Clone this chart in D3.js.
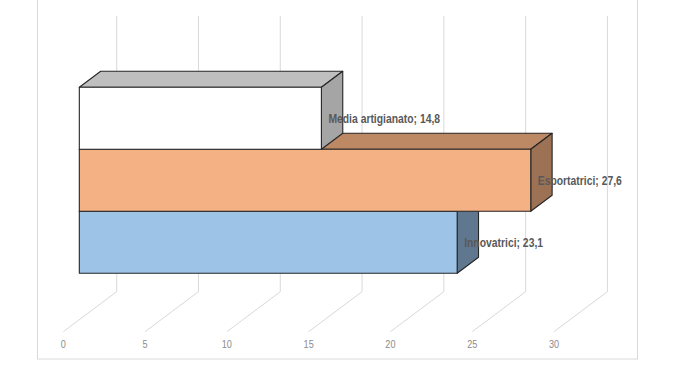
<!DOCTYPE html>
<html>
<head>
<meta charset="utf-8">
<script src="https://cdn.jsdelivr.net/npm/d3@7/dist/d3.min.js"></script>
<style>
  body { margin: 0; background: #fff; }
  svg { display: block; }
</style>
</head>
<body>
<div id="chart"></div>
<script>
// dati
const categories = ["Media artigianato", "Esportatrici", "Innovatrici"];
const values = [14.8, 27.6, 23.1];
const tickValues = [0, 5, 10, 15, 20, 25, 30];
const labelTexts = ["Media artigianato; 14,8", "Esportatrici; 27,6", "Innovatrici; 23,1"];

// colori (fronte, sopra, lato)
const frontColors = ["#ffffff", "#f4b183", "#9dc3e6"];
const topColors = ["#bfbfbf", "#bd8864", "#7d9cb9"];
const sideColors = ["#a5a5a5", "#9c7154", "#60788f"];

const width = 700, height = 370;

// profondità della prospettiva
const DX = 53.4, DY = 40;
const barT0 = 0.3, barT1 = 0.7;
const narrow = 0.83; // font "narrow" simulato

const svg = d3.select("#chart").append("svg")
  .attr("width", width)
  .attr("height", height);

// bordo del grafico
svg.append("rect")
  .attr("x", 37.5).attr("y", -5)
  .attr("width", 600).attr("height", 364)
  .attr("fill", "none")
  .attr("stroke", "#d9d9d9");

// scale sul piano frontale
const x = d3.scaleLinear().domain([0, 30]).range([63.3, 554]);
const y = d3.scaleBand().domain(categories).range([99.3, 285.3]).padding(0);
const floorY = 331.7, wallTop = 56;

const P = (v, yy, t) => [x(v) + t * DX, yy - t * DY];
const poly = pts => "M" + pts.map(p => p.join(",")).join("L") + "Z";

// griglia: parete posteriore e pavimento
const grid = svg.append("g").attr("stroke", "#d9d9d9").attr("fill", "none");
tickValues.forEach(v => {
  const a = P(v, wallTop, 1), b = P(v, floorY, 1), c = P(v, floorY, 0);
  grid.append("path").attr("d", `M${a}L${b}L${c}`);
});

// etichette asse
svg.append("g").selectAll("text")
  .data(tickValues)
  .enter().append("text")
  .attr("transform", d => `translate(${x(d)},344) scale(${narrow},1)`)
  .attr("dy", "0.35em")
  .attr("text-anchor", "middle")
  .attr("fill", "#8c8c8c")
  .style("font", "11px 'Liberation Sans', Arial, sans-serif")
  .text(d => d);

// barre: dal basso verso l'alto
const bars = svg.append("g")
  .attr("stroke", "#262626")
  .attr("stroke-width", 1.1)
  .attr("stroke-linejoin", "round");

d3.range(categories.length).reverse().forEach(i => {
  const v = values[i];
  const y0 = y(categories[i]), y1 = y0 + y.bandwidth();
  const top = [P(0, y0, barT0), P(v, y0, barT0), P(v, y0, barT1), P(0, y0, barT1)];
  const side = [P(v, y0, barT0), P(v, y0, barT1), P(v, y1, barT1), P(v, y1, barT0)];
  const front = [P(0, y0, barT0), P(v, y0, barT0), P(v, y1, barT0), P(0, y1, barT0)];
  bars.append("path").attr("d", poly(top)).attr("fill", topColors[i]);
  bars.append("path").attr("d", poly(side)).attr("fill", sideColors[i]);
  bars.append("path").attr("d", poly(front)).attr("fill", frontColors[i]);
});

// etichette dati
svg.append("g").selectAll("text")
  .data(d3.range(categories.length))
  .enter().append("text")
  .attr("transform", i => {
    const px = P(values[i], 0, barT0)[0] + 7;
    const py = P(0, y(categories[i]) + y.bandwidth() / 2, barT0)[1];
    return `translate(${px},${py}) scale(${narrow},1)`;
  })
  .attr("dy", "0.35em")
  .attr("fill", "#595959")
  .style("font", "bold 12.5px 'Liberation Sans', Arial, sans-serif")
  .text(i => labelTexts[i]);
</script>
</body>
</html>
